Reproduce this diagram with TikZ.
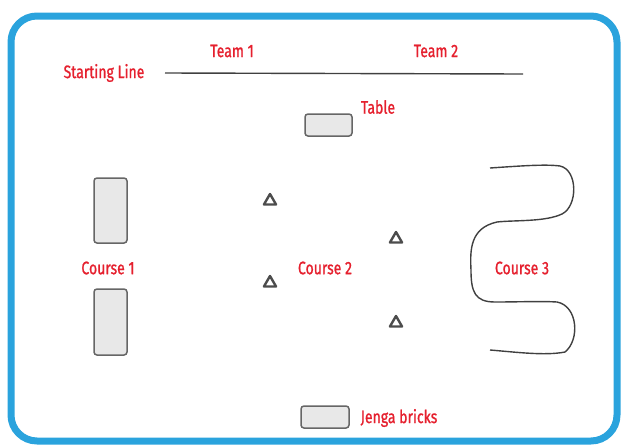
\documentclass[tikz,border=0pt]{standalone}
\usepackage{fontspec}
\newfontfamily\labfont{Fira Sans}[FakeBold=1.2]
\usetikzlibrary{positioning, shapes.geometric}
\definecolor{frameblue}{HTML}{2AA3DD}
\definecolor{labred}{HTML}{E5202E}
\definecolor{brickgray}{HTML}{E8E8E8}
\newcommand{\lbl}[1]{\scalebox{0.78}[1]{#1}}
\tikzset{
  lab/.style    = {text=labred, inner sep=1pt,
                   font=\labfont\fontsize{18}{20}\selectfont},
  brick/.style  = {draw=black!60, fill=brickgray, rounded corners=3pt,
                   line width=1.5pt, inner sep=0pt},
  cone/.style   = {draw=black!70, regular polygon, regular polygon sides=3,
                   minimum size=14pt, inner sep=0pt, line width=2.4pt,
                   line join=round},
  trackln/.style= {draw=black!75, line width=1.4pt},
}
\begin{document}
\begin{tikzpicture}[x=1pt, y=-1pt]
\useasboundingbox (0,0) rectangle (625,445);
% outer frame
\draw[frameblue, line width=7pt, rounded corners=26pt] (11,16) rectangle (617,441);

% starting line
\coordinate (sl-a) at (165,73);
\coordinate (sl-b) at (523,74);
\draw[trackln] (sl-a) -- (sl-b);
\node[lab] (start) at (104,73) {\lbl{Starting Line}};
\node[lab] (team1) at (232,51) {\lbl{Team 1}};
\node[lab] (team2) at (436,51) {\lbl{Team 2}};

% table
\node[brick, minimum width=47pt, minimum height=22pt] (table) at (328.5,125) {};
\node[lab] (tablelab) at (378,107) {\lbl{Table}};

% course 1
\node[brick, minimum width=33pt, minimum height=65pt] (c1top) at (110.5,210.5) {};
\node[brick, minimum width=33pt, minimum height=66pt] (c1bot) at (110.5,322) {};
\node[lab] (course1) at (108,268) {\lbl{Course 1}};

% course 2
\node[cone] (cone1) at (270,201) {};
\node[cone] (cone2) at (270,283) {};
\node[cone] (cone3) at (396,239) {};
\node[cone] (cone4) at (396,323) {};
\node[lab] (course2) at (325,268) {\lbl{Course 2}};

% course 3
\draw[trackln] (490,168) .. controls (520,166) and (545,164) .. (560,166)
  .. controls (578,170) and (578,206) .. (562,214)
  .. controls (545,222) and (515,220) .. (497,222)
  .. controls (470,228) and (470,250) .. (471,270)
  .. controls (471,292) and (475,302) .. (495,302)
  .. controls (520,302) and (540,301) .. (557,302)
  .. controls (578,306) and (580,340) .. (565,352)
  .. controls (545,356) and (515,352) .. (490,350);
\node[lab] (course3) at (522,268) {\lbl{Course 3}};

% jenga bricks
\node[brick, minimum width=48pt, minimum height=22pt] (jenga) at (325,417) {};
\node[lab] (jengalab) at (399,418) {\lbl{Jenga bricks}};
\end{tikzpicture}
\end{document}
